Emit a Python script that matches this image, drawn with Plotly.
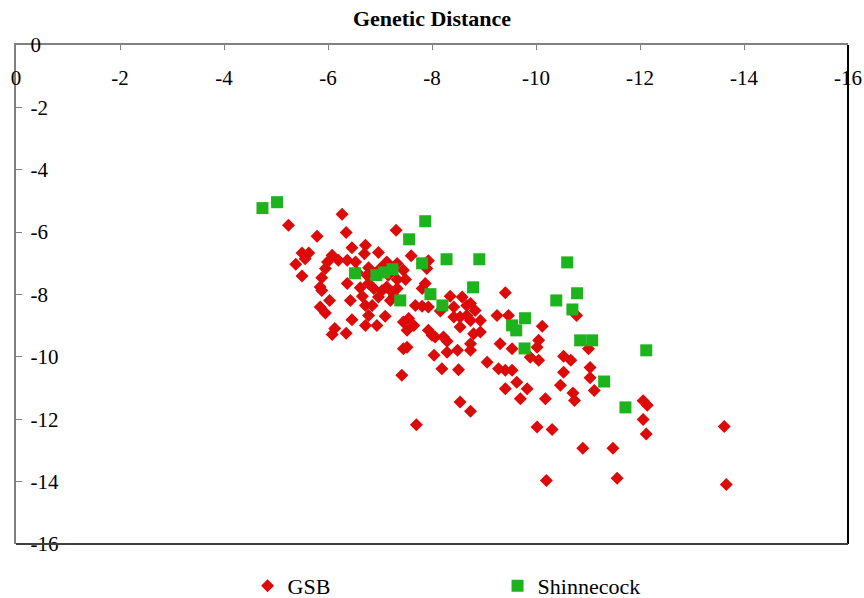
import plotly.graph_objects as go

# GSB (red diamonds): genetic distance coordinates
gsb_x = [-6.27, -5.24, -5.79, -6.35, -6.46, -5.50, -5.63, -5.56, -5.38, -5.50,
         -6.08, -5.99, -6.20, -6.37, -6.53, -5.95, -5.88, -5.85, -5.88, -6.37,
         -6.03, -6.43, -5.85, -5.95, -6.46, -6.13, -6.08, -6.35, -6.72, -6.70,
         -6.97, -7.31, -7.13, -7.33, -6.78, -6.88, -6.75, -6.62, -6.78, -6.88,
         -7.04, -7.13, -7.33, -7.23, -7.33, -6.97, -6.72, -6.85, -6.78, -7.10,
         -6.94, -6.72, -7.42, -7.70, -7.45, -7.01, -7.16, -7.24, -7.60, -7.93,
         -7.90, -7.45, -7.49, -7.81, -7.87, -7.68, -7.81, -7.93, -8.16, -8.35,
         -8.58, -8.42, -8.67, -8.74, -8.83, -8.42, -8.54, -8.74, -8.93, -8.67,
         -8.80, -8.93, -8.00, -8.22, -7.93, -7.45, -7.52, -7.65, -7.55, -8.06,
         -8.29, -8.74, -8.49, -8.29, -8.04, -8.19, -8.51, -8.74, -8.54, -8.74,
         -7.52, -8.54, -9.41, -9.25, -9.47, -9.31, -9.54, -9.06, -9.28, -9.41,
         -9.54, -9.63, -9.83, -9.41, -9.70, -10.18, -10.02, -10.31, -10.12, -10.05,
         -10.02, -9.89, -10.05, -10.20, -10.53, -10.67, -10.53, -10.47, -10.71, -10.74,
         -11.04, -11.04, -11.12, -10.78, -11.01, -12.06, -12.14, -12.06, -12.12, -10.90,
         -11.48, -11.56, -13.62, -13.66, -6.56, -6.66, -7.20, -7.27]
gsb_y = [-5.43, -5.78, -6.13, -6.01, -6.50, -6.67, -6.67, -6.85, -7.03, -7.41,
         -6.74, -6.96, -6.90, -6.90, -6.96, -7.17, -7.46, -7.76, -7.87, -7.65,
         -8.19, -8.19, -8.40, -8.59, -8.81, -9.09, -9.28, -9.24, -6.42, -6.69,
         -6.65, -5.94, -6.96, -7.01, -7.14, -7.33, -7.38, -7.78, -7.65, -7.81,
         -7.87, -7.76, -7.81, -7.92, -7.52, -8.08, -8.35, -8.35, -8.67, -8.70,
         -8.99, -8.99, -10.59, -12.18, -9.74, -7.16, -7.38, -7.22, -6.76, -6.92,
         -7.17, -7.22, -7.52, -7.81, -7.65, -8.35, -8.38, -8.40, -8.53, -8.06,
         -8.08, -8.40, -8.35, -8.29, -8.51, -8.72, -9.04, -8.83, -8.83, -8.67,
         -9.26, -9.20, -9.31, -9.36, -9.15, -8.88, -9.15, -8.99, -8.77, -9.36,
         -9.50, -9.58, -9.79, -9.85, -9.95, -10.38, -10.41, -9.79, -11.45, -11.74,
         -9.69, -8.72, -7.94, -8.67, -8.67, -9.58, -9.74, -10.17, -10.38, -10.43,
         -10.43, -10.81, -11.02, -11.02, -11.34, -11.34, -12.25, -12.33, -9.02, -9.47,
         -9.69, -10.01, -10.11, -13.96, -9.98, -10.11, -10.49, -10.91, -11.16, -11.40,
         -10.34, -10.67, -11.08, -8.67, -9.74, -11.41, -11.55, -12.01, -12.47, -12.93,
         -12.93, -13.89, -12.23, -14.09, -7.29, -8.06, -8.19, -8.06]

# Shinnecock (green squares)
shin_x = [-4.74, -5.02, -6.52, -6.93, -7.08, -7.24, -7.39, -7.56, -7.81, -7.87,
          -7.97, -8.20, -8.28, -8.91, -8.79, -9.54, -9.62, -9.79, -9.78, -10.39,
          -10.60, -10.70, -10.79, -10.85, -11.08, -11.31, -11.72, -12.12]
shin_y = [-5.23, -5.04, -7.32, -7.38, -7.29, -7.19, -8.19, -6.23, -7.00, -5.65,
          -7.99, -8.35, -6.87, -6.87, -7.77, -8.99, -9.15, -8.76, -9.73, -8.19,
          -6.97, -8.48, -7.96, -9.47, -9.47, -10.79, -11.62, -9.79]

tick_vals = [0, -2, -4, -6, -8, -10, -12, -14, -16]
tick_text = ["0", "-2", "-4", "-6", "-8", "-10", "-12", "-14", "-16"]

FONT = "Liberation Serif, Times New Roman, serif"

fig = go.Figure()
fig.add_trace(go.Scatter(
    x=gsb_x, y=gsb_y, mode="markers", name="GSB",
    marker=dict(symbol="diamond", size=10, color="#DD0A0A"),
))
fig.add_trace(go.Scatter(
    x=shin_x, y=shin_y, mode="markers", name="Shinnecock",
    marker=dict(symbol="square", size=12, color="#1DB31D"),
))

fig.update_layout(
    width=864, height=598,
    margin=dict(l=16, r=16, t=45, b=54, autoexpand=False),
    paper_bgcolor="white", plot_bgcolor="white",
    font=dict(family=FONT, size=20, color="black"),
    title=dict(text="<b>Genetic Distance</b>", x=0.5, xanchor="center",
               y=1 - 18 / 598, yanchor="middle",
               font=dict(family=FONT, size=22, color="black")),
    showlegend=True,
    legend=dict(orientation="h", xref="container", x=0.2865, xanchor="left",
                yref="container", y=12 / 598, yanchor="middle",
                font=dict(family=FONT, size=22, color="black"),
                entrywidth=205, entrywidthmode="pixels",
                bgcolor="rgba(0,0,0,0)"),
    xaxis=dict(side="top", range=[0, -16], tickvals=tick_vals, ticktext=tick_text,
               showgrid=False, zeroline=False, showline=True, automargin=False,
               linecolor="#808080", linewidth=1.5,
               ticks="inside", ticklen=5, tickcolor="#808080", tickwidth=1,
               ticklabelposition="inside", ticklabelstandoff=22,
               ticklabeloverflow="allow",
               tickfont=dict(family=FONT, size=21, color="black")),
    yaxis=dict(side="left", range=[-16, 0], tickvals=tick_vals, ticktext=tick_text,
               showgrid=False, zeroline=False, showline=True, automargin=False,
               linecolor="#808080", linewidth=1.5,
               ticks="inside", ticklen=6, tickcolor="#808080", tickwidth=1,
               ticklabelposition="inside", ticklabelstandoff=10,
               ticklabeloverflow="allow",
               tickfont=dict(family=FONT, size=21, color="black")),
    shapes=[
        dict(type="line", xref="paper", yref="paper", x0=1, x1=1, y0=0, y1=1,
             line=dict(color="black", width=2)),
        dict(type="line", xref="paper", yref="paper", x0=0, x1=1, y0=0, y1=0,
             line=dict(color="#404040", width=2)),
    ],
)

fig.write_html("out.html")
